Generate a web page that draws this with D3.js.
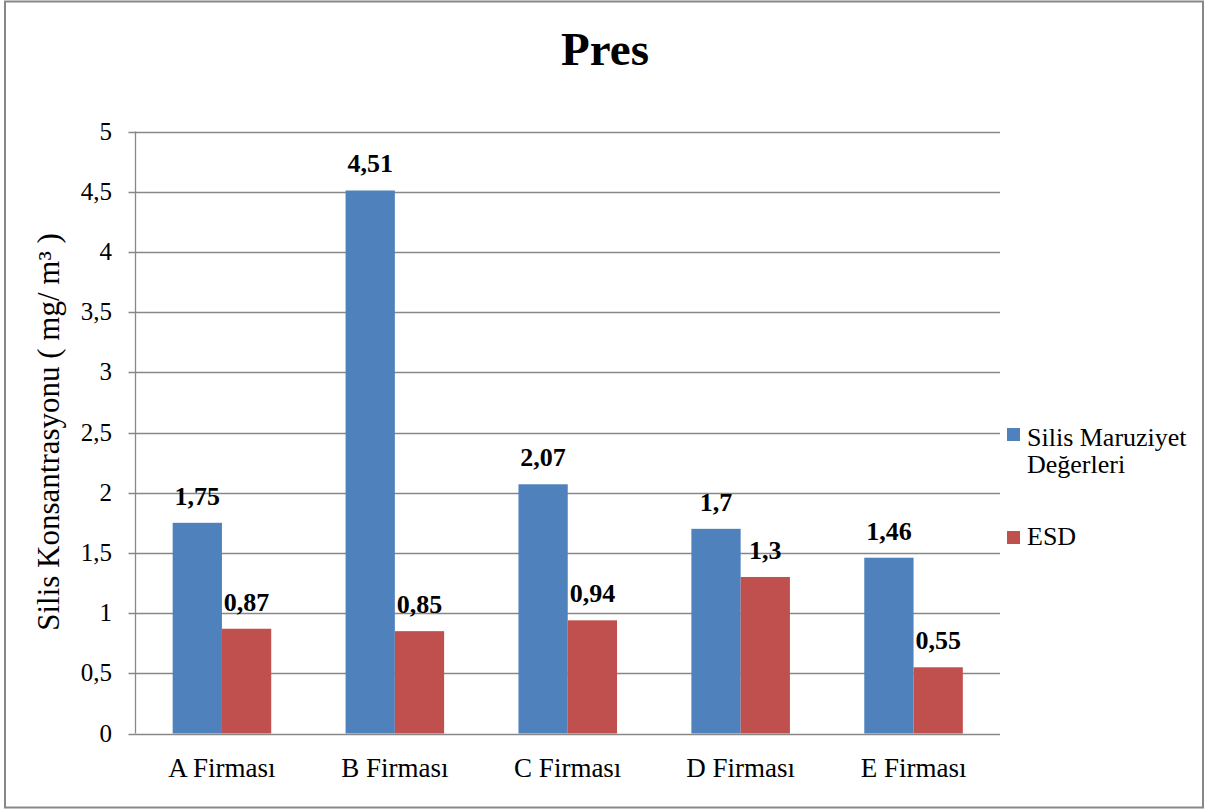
<!DOCTYPE html>
<html>
<head>
<meta charset="utf-8">
<script src="https://cdn.jsdelivr.net/npm/d3@7"></script>
<style>
  body { margin: 0; background: #fff; }
  svg { display: block; font-family: "Liberation Serif", "Times New Roman", "DejaVu Serif", serif; }
</style>
</head>
<body>
<svg width="1208" height="811"></svg>
<script>
'use strict';

const categories = ["A Firması", "B Firması", "C Firması", "D Firması", "E Firması"];
const seriesNames = ["Silis Maruziyet Değerleri", "ESD"];
const silisValues = [1.75, 4.51, 2.07, 1.7, 1.46];
const esdValues = [0.87, 0.85, 0.94, 1.3, 0.55];
const colors = ["#4F81BD", "#C0504D"];
const yTicks = [0, 0.5, 1, 1.5, 2, 2.5, 3, 3.5, 4, 4.5, 5];

const svg = d3.select("svg");
const margin = {left: 135.5, right: 1000, top: 131.5, bottom: 733.5};
const fmt = d => String(d).replace(".", ",");

// outer frame
svg.append("rect")
  .attr("x", 5).attr("y", 1.5).attr("width", 1198).attr("height", 806)
  .attr("fill", "#fff").attr("stroke", "#888").attr("stroke-width", 2);

const x = d3.scaleBand()
  .domain(categories)
  .range([margin.left, margin.right])
  .paddingInner(0.43)
  .paddingOuter(0.215);

const xs = d3.scaleBand()
  .domain(d3.range(seriesNames.length))
  .range([0, x.bandwidth()]);

const y = d3.scaleLinear()
  .domain([0, 5])
  .range([margin.bottom, margin.top]);

// gridlines
svg.append("g")
  .selectAll("line")
  .data(yTicks)
  .join("line")
  .attr("x1", margin.left - 7)
  .attr("x2", margin.right)
  .attr("y1", d => Math.round(y(d)) + 0.5)
  .attr("y2", d => Math.round(y(d)) + 0.5)
  .attr("stroke", "#888")
  .attr("stroke-width", 1.3);

// y axis line
svg.append("line")
  .attr("x1", margin.left).attr("x2", margin.left)
  .attr("y1", margin.top).attr("y2", margin.bottom)
  .attr("stroke", "#888").attr("stroke-width", 1.3);

// y tick labels
svg.append("g")
  .selectAll("text")
  .data(yTicks)
  .join("text")
  .attr("x", 112)
  .attr("y", d => y(d) + 8)
  .attr("text-anchor", "end")
  .attr("font-size", 25)
  .text(fmt);

const series = [silisValues, esdValues];

const groups = svg.append("g")
  .selectAll("g")
  .data(categories)
  .join("g")
  .attr("transform", d => `translate(${x(d)},0)`);

groups.selectAll("rect")
  .data((d, i) => series.map((s, k) => ({k, v: s[i]})))
  .join("rect")
  .attr("x", d => xs(d.k))
  .attr("width", xs.bandwidth())
  .attr("y", d => y(d.v))
  .attr("height", d => y(0) - y(d.v))
  .attr("fill", d => colors[d.k]);

groups.selectAll("text.val")
  .data((d, i) => series.map((s, k) => ({k, v: s[i]})))
  .join("text")
  .attr("class", "val")
  .attr("x", d => xs(d.k) + xs.bandwidth() / 2)
  .attr("y", d => y(d.v) - 18)
  .attr("text-anchor", "middle")
  .attr("font-size", 26)
  .attr("font-weight", "bold")
  .text(d => fmt(d.v));

// x category labels
svg.append("g")
  .selectAll("text")
  .data(categories)
  .join("text")
  .attr("x", d => x(d) + x.bandwidth() / 2)
  .attr("y", 777)
  .attr("text-anchor", "middle")
  .attr("font-size", 27)
  .text(d => d);

// title
svg.append("text")
  .attr("x", 605).attr("y", 65)
  .attr("text-anchor", "middle")
  .attr("font-size", 47)
  .attr("font-weight", "bold")
  .text("Pres");

// y axis title
svg.append("text")
  .attr("transform", "translate(59,432) rotate(-90)")
  .attr("text-anchor", "middle")
  .attr("font-size", 31)
  .text("Silis Konsantrasyonu ( mg/ m³ )");

// legend
const legend = svg.append("g");
legend.append("rect").attr("x", 1007).attr("y", 428).attr("width", 13).attr("height", 13).attr("fill", colors[0]);
legend.append("text").attr("x", 1027).attr("y", 446).attr("font-size", 26).text("Silis Maruziyet");
legend.append("text").attr("x", 1027).attr("y", 473).attr("font-size", 26).text("Değerleri");
legend.append("rect").attr("x", 1007).attr("y", 531).attr("width", 13).attr("height", 13).attr("fill", colors[1]);
legend.append("text").attr("x", 1027).attr("y", 545).attr("font-size", 26).text(seriesNames[1]);
</script>
</body>
</html>
